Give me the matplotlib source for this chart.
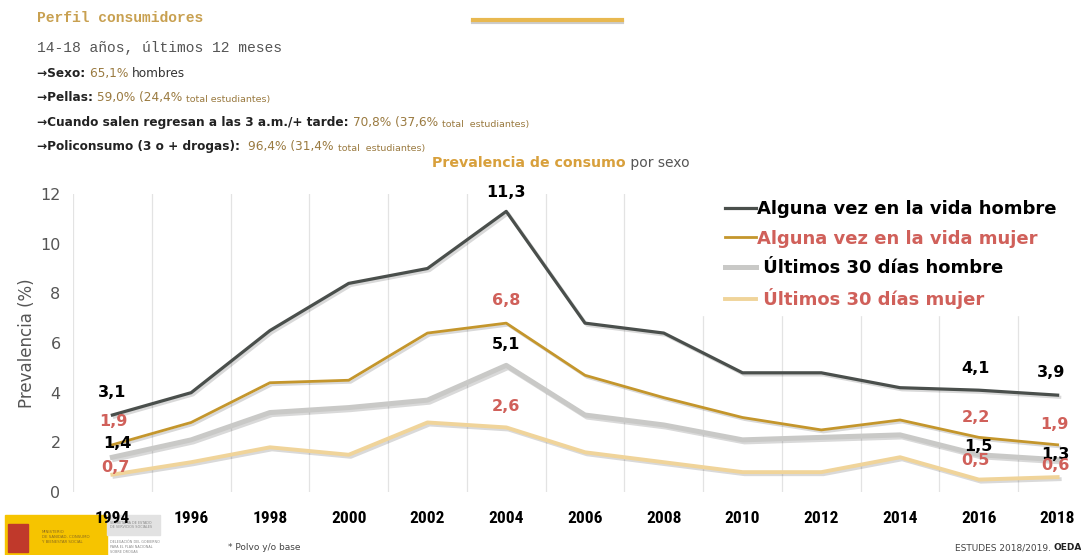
# -*- coding: utf-8 -*-
import matplotlib.pyplot as plt
import numpy as np
from matplotlib import patheffects as pe
from matplotlib.patches import Rectangle

# ---DATA---
years = ['1994', '1996', '1998', '2000', '2002', '2004', '2006',
         '2008', '2010', '2012', '2014', '2016', '2018']
alguna_hombre = [3.1, 4.0, 6.5, 8.4, 9.0, 11.3, 6.8, 6.4, 4.8, 4.8, 4.2, 4.1, 3.9]
alguna_mujer = [1.9, 2.8, 4.4, 4.5, 6.4, 6.8, 4.7, 3.8, 3.0, 2.5, 2.9, 2.2, 1.9]
ultimos_hombre = [1.4, 2.1, 3.2, 3.4, 3.7, 5.1, 3.1, 2.7, 2.1, 2.2, 2.3, 1.5, 1.3]
ultimos_mujer = [0.7, 1.2, 1.8, 1.5, 2.8, 2.6, 1.6, 1.2, 0.8, 0.8, 1.4, 0.5, 0.6]
labelled = [0, 5, 11, 12]   # years with value labels

# ---STYLE---
c_dark = '#4a4f4c'
c_gold = '#c4962c'
c_lgray = '#c9c9c7'
c_lgold = '#f0d49a'
c_red = '#d0605a'
c_brown = '#9a7a40'
shadow = [pe.SimpleLineShadow(offset=(1.5, -1.5), alpha=0.15), pe.Normal()]

fig = plt.figure(figsize=(10.81, 5.55), dpi=100)
W, H = 1081., 555.
ax = fig.add_axes([73 / W, 1 - 492 / H, (1097 - 73) / W, (492 - 194) / H])
ax.patch.set_visible(False)

x = np.arange(len(years))
l1, = ax.plot(x, alguna_hombre, color=c_dark, lw=2.3, path_effects=shadow, zorder=5)
l2, = ax.plot(x, alguna_mujer, color=c_gold, lw=2.0, path_effects=shadow, zorder=4)
l3, = ax.plot(x, ultimos_hombre, color=c_lgray, lw=3.6, path_effects=shadow, zorder=3)
l4, = ax.plot(x, ultimos_mujer, color=c_lgold, lw=2.8, path_effects=shadow, zorder=2)

ax.set_xlim(-0.5, len(years) - 0.5)
ax.set_ylim(0, 12)
ax.set_yticks(np.arange(0, 13, 2))
ax.set_xticks(x)
ax.set_xticklabels(years, fontsize=12.5, fontweight='bold',
                   family=['Roboto Condensed', 'Roboto', 'DejaVu Sans'])
ax.set_xticks(np.arange(-0.5, len(years)), minor=True)
ax.grid(which='minor', axis='x', color='#e3e3e3', lw=0.9)
ax.tick_params(axis='both', which='both', length=0)
ax.tick_params(axis='x', pad=14)
ax.tick_params(axis='y', labelsize=11.5, labelcolor='#555555', pad=9)
for s in ax.spines.values():
    s.set_visible(False)
ax.set_ylabel('Prevalencia (%)', fontsize=12, color='#555555', labelpad=3)

# value labels (offset in pixels from each point)
offsets = {
    'ah': [(0, 23), (0, 19), (-3, 22), (-7, 23)],
    'am': [(1, 23), (0, 23), (-3, 20), (-3, 20)],
    'uh': [(5, 14), (0, 21), (0, 8), (-2, 5)],
    'um': [(3, 7), (0, 21), (-3, 19), (-2, 12)],
}
series = [('ah', alguna_hombre, 'black'), ('am', alguna_mujer, c_red),
          ('uh', ultimos_hombre, 'black'), ('um', ultimos_mujer, c_red)]
for key, vals, col in series:
    for k, i in enumerate(labelled):
        ax.annotate(('%.1f' % vals[i]).replace('.', ','), xy=(i, vals[i]),
                    xytext=offsets[key][k], textcoords='offset pixels',
                    ha='center', va='center', fontsize=11.5, fontweight='bold',
                    color=col, zorder=10)

# white box behind the legend (hides the grid there)
fig.add_artist(Rectangle((695 / W, 1 - 315 / H), (W - 695) / W, 127 / H,
                         color='white', transform=fig.transFigure, zorder=1))

# legend
leg = fig.legend([l1, l2, l3, l4],
                 ['Alguna vez en la vida hombre', 'Alguna vez en la vida mujer',
                  ' Últimos 30 días hombre', ' Últimos 30 días mujer'],
                 loc='upper left', bbox_to_anchor=(711 / W, 1 - 186 / H),
                 frameon=False, prop={'weight': 'bold', 'size': 13},
                 handlelength=1.7, handletextpad=0.05, labelspacing=0.62,
                 borderpad=0.3, labelcolor=['black', c_red, 'black', c_red])
leg.set_zorder(2)
for h in leg.get_lines():
    h.set_path_effects([])

# chart title
t = fig.text(432 / W, 1 - 163 / H, 'Prevalencia de consumo', fontsize=10.2,
             fontweight='bold', color='#d8a03c', va='center')
fig.canvas.draw()
ax.annotate(' por sexo', xy=(1, 0.5), xycoords=t, va='center', fontsize=10,
            color='#555555', annotation_clip=False)

# header
fig.text(37 / W, 1 - 18 / H, 'Perfil consumidores', family='Liberation Mono',
         fontsize=10.5, fontweight='bold', color='#c8a050', va='center')
fig.text(37 / W, 1 - 48 / H, '14-18 años, últimos 12 meses', family='Liberation Mono',
         fontsize=10.5, color='#555555', va='center')

bullets = [
    [('→Sexo: ', 'bold', '#222222', 8.7), ('65,1% ', 'normal', c_brown, 8.7),
     ('hombres', 'normal', '#333333', 8.7)],
    [('→Pellas: ', 'bold', '#222222', 8.7), ('59,0% (24,4% ', 'normal', c_brown, 8.7),
     ('total estudiantes)', 'normal', c_brown, 6.8)],
    [('→Cuando salen regresan a las 3 a.m./+ tarde: ', 'bold', '#222222', 8.7),
     ('70,8% (37,6% ', 'normal', c_brown, 8.7),
     ('total  estudiantes)', 'normal', c_brown, 6.8)],
    [('→Policonsumo (3 o + drogas):  ', 'bold', '#222222', 8.7),
     ('96,4% (31,4% ', 'normal', c_brown, 8.7),
     ('total  estudiantes)', 'normal', c_brown, 6.8)],
]
for row, yy in zip(bullets, [73, 97, 122, 146]):
    prev = None
    for txt, wt, col, fs in row:
        if prev is None:
            prev = fig.text(37 / W, 1 - (yy + 7) / H, txt, fontsize=fs, fontweight=wt,
                            color=col, va='bottom')
        else:
            fig.canvas.draw()
            prev = ax.annotate(txt, xy=(1, 0), xycoords=prev, fontsize=fs,
                               fontweight=wt, color=col, va='bottom',
                               annotation_clip=False)

# decorative underline at top
fig.add_artist(plt.Line2D([473 / W, 622 / W], [1 - 20 / H, 1 - 20 / H],
                          color='#e8b850', lw=3,
                          path_effects=[pe.SimpleLineShadow(offset=(0, -1.5), alpha=0.2),
                                        pe.Normal()]))

# logo block + footers (drawn under the axes so "1994" stays on top)
fig.add_artist(Rectangle((5 / W, 0), 102 / W, 40 / H, color='#f6c400',
                         transform=fig.transFigure, zorder=-2))
fig.add_artist(Rectangle((8 / W, 3 / H), 20 / W, 28 / H, color='#c0392b',
                         transform=fig.transFigure, zorder=-1))
fig.add_artist(Rectangle((107 / W, 20 / H), 53 / W, 20 / H, color='#e2e2e2',
                         transform=fig.transFigure, zorder=-2))
fig.text(42 / W, 18 / H, 'MINISTERIO\nDE SANIDAD, CONSUMO\nY BIENESTAR SOCIAL',
         fontsize=2.8, color='#8a6a20', va='center', linespacing=1.3, zorder=-1)
fig.text(110 / W, 30 / H, 'SECRETARÍA DE ESTADO\nDE SERVICIOS SOCIALES',
         fontsize=2.4, color='#888888', va='center', zorder=-1)
fig.text(110 / W, 8 / H, 'DELEGACIÓN DEL GOBIERNO\nPARA EL PLAN NACIONAL\nSOBRE DROGAS',
         fontsize=2.4, color='#888888', va='center', zorder=-1)
fig.text(228 / W, 1 - 548 / H, '* Polvo y/o base', fontsize=6.5, color='#444444',
         va='center')
ft = fig.text(955 / W, 1 - 548 / H, 'ESTUDES 2018/2019. ', fontsize=6.5,
              color='#444444', va='center')
fig.canvas.draw()
ax.annotate('OEDA', xy=(1, 0.5), xycoords=ft, fontsize=6.5, fontweight='bold',
            color='#222222', va='center', annotation_clip=False)

fig.savefig('out.png', dpi=100)
